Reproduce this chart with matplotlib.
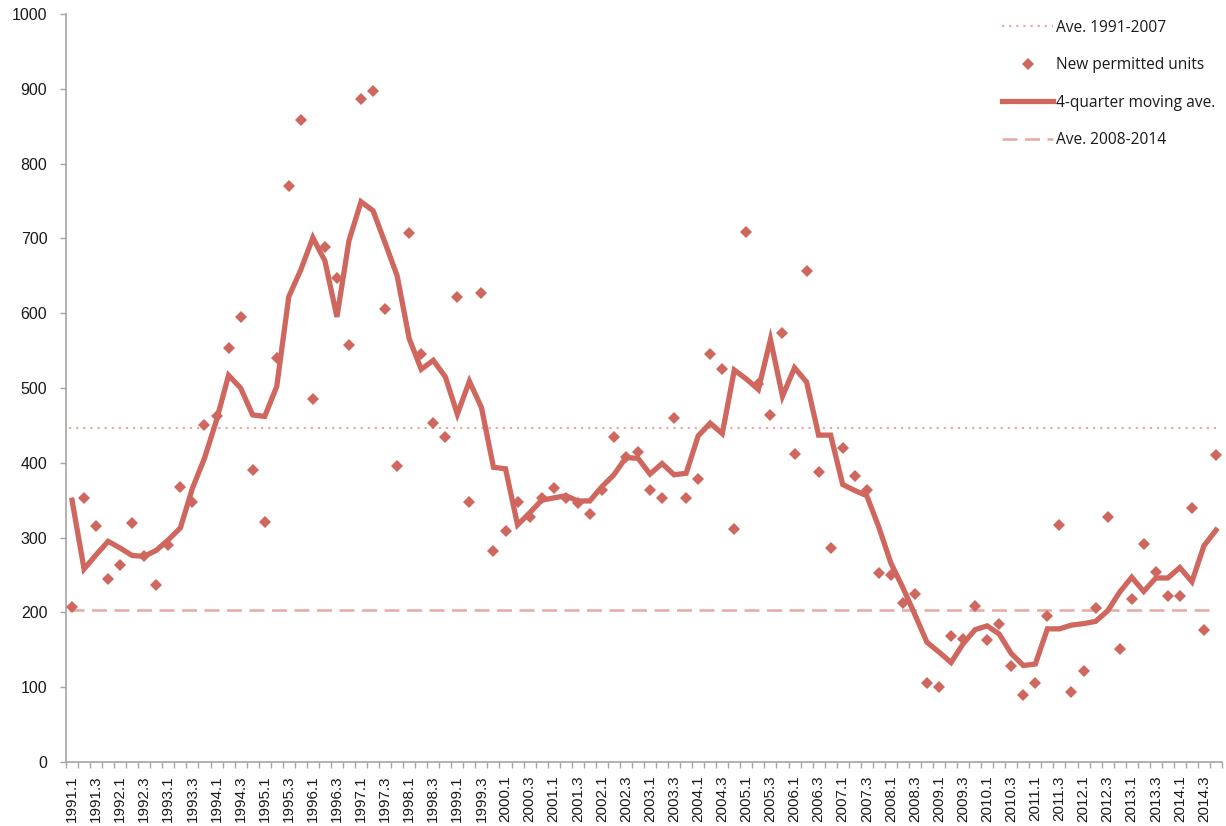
import matplotlib
matplotlib.use("Agg")
import matplotlib.pyplot as plt
from matplotlib.ticker import FixedLocator

# ── Data ──
years = list(range(1991, 2015))
quarters = [f"{y}.{q}" for y in years for q in range(1, 5)]

permits = [
    207, 353, 316, 244, 264, 320, 275, 237, 290, 368, 348, 451,
    462, 554, 595, 390, 321, 540, 770, 858, 485, 689, 647, 558,
    886, 897, 606, 396, 707, 546, 453, 435, 622, 348, 627, 282,
    309, 347, 328, 353, 366, 353, 346, 332, 364, 435, 408, 415,
    364, 353, 460, 353, 379, 546, 525, 311, 709, 505, 464, 574,
    412, 656, 388, 286, 420, 383, 363, 253, 250, 212, 224, 105,
    100, 169, 165, 208, 163, 185, 128, 90, 106, 195, 317, 94,
    121, 206, 328, 151, 218, 291, 254, 222, 222, 340, 177, 410,
]

moving_ave = [
    350, 258, 277, 295, 286, 276, 275, 283, 297, 313, 366, 406,
    457, 517, 500, 464, 462, 502, 622, 658, 701, 670, 595, 697,
    749, 737, 694, 650, 566, 525, 537, 515, 465, 509, 474, 394,
    392, 317, 333, 350, 353, 356, 349, 349, 368, 384, 407, 406,
    385, 399, 384, 386, 436, 453, 439, 524, 512, 498, 565, 489,
    527, 508, 437, 437, 371, 363, 356, 314, 266, 233, 197, 160,
    147, 133, 158, 177, 182, 171, 145, 129, 131, 178, 178, 183,
    185, 188, 202, 227, 247, 228, 246, 246, 260, 241, 289, 310,
]

ave_1991_2007 = 447
ave_2008_2014 = 203

# ── Style ──
C_MAIN = "#CF675F"
C_AVE = "#E8A8A3"
C_AXIS = "#A6A6A6"
C_TEXT = "#1A1A1A"
plt.rcParams["font.family"] = ["Liberation Sans", "DejaVu Sans"]

fig = plt.figure(figsize=(12.26, 8.26), dpi=100)
fig.patch.set_facecolor("white")
ax = fig.add_axes([66 / 1226, 64 / 826, 1156 / 1226, 748 / 826])

x = list(range(len(quarters)))

ax.axhline(ave_1991_2007, xmin=0.003, xmax=0.995, color=C_AVE, lw=1.6,
           ls=(0, (1, 2.2)), label="Ave. 1991-2007", zorder=1)
ax.plot(x, permits, ls="none", marker="D", ms=6.2, color=C_MAIN,
        markeredgewidth=0, label="New permitted units", zorder=3)
ax.plot(x, moving_ave, color=C_MAIN, lw=3.8, solid_joinstyle="miter",
        label="4-quarter moving ave.", zorder=2)
ax.axhline(ave_2008_2014, xmin=0.003, xmax=0.995, color=C_AVE, lw=1.8,
           ls=(0, (6, 3)), label="Ave. 2008-2014", zorder=1)

# ── Axes ──
ax.set_xlim(-0.5, len(quarters) - 0.5)
ax.set_ylim(0, 1000)
ax.set_yticks(range(0, 1001, 100))
ax.set_xticks(x[::2])
ax.set_xticklabels(quarters[::2], rotation=90, fontsize=11, color=C_TEXT)
ax.xaxis.set_minor_locator(FixedLocator([i - 0.5 for i in range(len(quarters) + 1)]))
ax.tick_params(axis="x", which="major", length=0, pad=9.5)
ax.tick_params(axis="x", which="minor", length=4, color=C_AXIS, width=1)
ax.tick_params(axis="y", length=4.5, color=C_AXIS, width=1, labelsize=11.5,
               labelcolor=C_TEXT, pad=9)

for s in ["top", "right"]:
    ax.spines[s].set_visible(False)
for s in ["left", "bottom"]:
    ax.spines[s].set_color(C_AXIS)
    ax.spines[s].set_linewidth(1.2)

# ── Legend ──
leg = ax.legend(loc="upper right", bbox_to_anchor=(1.003, 0.993),
                bbox_transform=fig.transFigure, frameon=False,
                prop={"family": ["Open Sans", "DejaVu Sans"], "size": 11.2},
                handlelength=3.3, labelspacing=1.38,
                handletextpad=0.2, numpoints=1)
for t in leg.get_texts():
    t.set_color(C_TEXT)

fig.savefig("out.png", dpi=100, facecolor="white")
